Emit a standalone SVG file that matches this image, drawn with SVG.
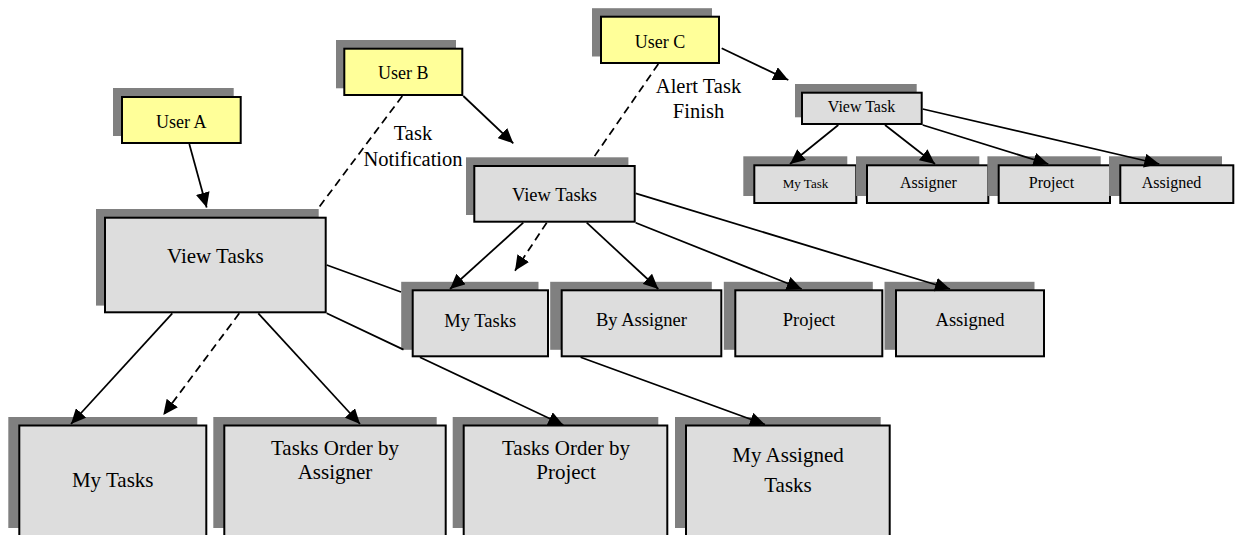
<svg xmlns="http://www.w3.org/2000/svg" width="1235" height="535" viewBox="0 0 1235 535">
  <style>
    .shadow { fill: #808080; stroke: none; }
    .box { fill: #dddddd; stroke: #000; stroke-width: 2; }
    .user { fill: #ffff99; stroke: #000; stroke-width: 2; }
    text { font-family: "Liberation Serif", "Times New Roman", serif; fill: #000; text-anchor: middle; }
    .t18 { font-size: 18px; }
    .t185 { font-size: 18.5px; }
    .t21 { font-size: 21px; }
    .t16 { font-size: 16px; }
    .t13 { font-size: 13px; }
    .lbl { font-size: 20.5px; }
    .link { fill: none; stroke: #000; stroke-width: 1.75; }
    .arrow { marker-end: url(#head); }
    .dash { stroke-dasharray: 8 5; }
  </style>
  <defs>
    <marker id="head" markerUnits="userSpaceOnUse" markerWidth="15" markerHeight="14" refX="15" refY="7" orient="auto">
      <path d="M0,0 L15,7 L0,14 z" fill="#000"/>
    </marker>
  </defs>

  <!-- users -->
  <g id="user-a">
    <rect class="shadow" x="113" y="88" width="120.7" height="48"/>
    <rect class="user" x="122" y="97" width="118.7" height="46"/>
    <text class="t18" x="181.3" y="127.7">User A</text>
  </g>
  <g id="user-b">
    <rect class="shadow" x="336" y="40" width="120" height="48.3"/>
    <rect class="user" x="344.3" y="48.7" width="118" height="46.3"/>
    <text class="t18" x="403.3" y="79.3">User B</text>
  </g>
  <g id="user-c">
    <rect class="shadow" x="592" y="8.2" width="120" height="48.3"/>
    <rect class="user" x="601" y="16.7" width="118" height="46.3"/>
    <text class="t18" x="660" y="47.7">User C</text>
  </g>

  <!-- user A: large views -->
  <g id="view-a">
    <rect class="shadow" x="96" y="209" width="222.7" height="96.6"/>
    <rect class="box" x="105" y="217.7" width="220.7" height="94.6"/>
    <text class="t21" x="215.3" y="263">View Tasks</text>
  </g>
  <g id="my-tasks-a">
    <rect class="shadow" x="8.3" y="417" width="189" height="111"/>
    <rect class="box" x="19.3" y="425.5" width="187" height="111"/>
    <text class="t21" x="112.7" y="487.3">My Tasks</text>
  </g>
  <g id="order-assigner-a">
    <rect class="shadow" x="213.3" y="417" width="223.4" height="111"/>
    <rect class="box" x="224.3" y="425.5" width="221.4" height="111"/>
    <text class="t21" x="335" y="455">Tasks Order by</text>
    <text class="t21" x="335" y="479.3">Assigner</text>
  </g>
  <g id="order-project-a">
    <rect class="shadow" x="452.7" y="417" width="205.6" height="111"/>
    <rect class="box" x="463.7" y="425.5" width="203.6" height="111"/>
    <text class="t21" x="566" y="455">Tasks Order by</text>
    <text class="t21" x="566" y="479.3">Project</text>
  </g>
  <g id="my-assigned-a">
    <rect class="shadow" x="675" y="417" width="205.7" height="111"/>
    <rect class="box" x="686" y="425.5" width="203.7" height="111"/>
    <text class="t21" x="788" y="461.7">My Assigned</text>
    <text class="t21" x="788" y="491.7">Tasks</text>
  </g>

  <!-- user B: medium views -->
  <g id="view-b">
    <rect class="shadow" x="466" y="157.3" width="162.4" height="57.7"/>
    <rect class="box" x="474.3" y="166" width="160.4" height="55.7"/>
    <text class="t185" x="554.5" y="200.7">View Tasks</text>
  </g>
  <g id="my-tasks-b">
    <rect class="shadow" x="401.2" y="281.8" width="137.3" height="68"/>
    <rect class="box" x="412.7" y="290.3" width="135.3" height="66"/>
    <text class="t185" x="480.3" y="326.5">My Tasks</text>
  </g>
  <g id="by-assigner-b">
    <rect class="shadow" x="550.2" y="281.8" width="161.6" height="68"/>
    <rect class="box" x="561.7" y="290.3" width="159.6" height="66"/>
    <text class="t185" x="641.5" y="326">By Assigner</text>
  </g>
  <g id="project-b">
    <rect class="shadow" x="723.8" y="281.8" width="149" height="68"/>
    <rect class="box" x="735.3" y="290.3" width="147" height="66"/>
    <text class="t185" x="809" y="325.5">Project</text>
  </g>
  <g id="assigned-b">
    <rect class="shadow" x="884.5" y="281.8" width="150" height="68"/>
    <rect class="box" x="896" y="290.3" width="148" height="66"/>
    <text class="t185" x="970" y="325.5">Assigned</text>
  </g>

  <!-- user C: small views -->
  <g id="view-c">
    <rect class="shadow" x="795" y="84" width="121.7" height="33.3"/>
    <rect class="box" x="802" y="92.7" width="119.7" height="31.3"/>
    <text class="t16" x="861.5" y="111.7">View Task</text>
  </g>
  <g id="my-task-c">
    <rect class="shadow" x="743.3" y="156.3" width="104" height="39.7"/>
    <rect class="box" x="754.3" y="165.3" width="102" height="37.7"/>
    <text class="t13" x="805.5" y="187.5">My Task</text>
  </g>
  <g id="assigner-c">
    <rect class="shadow" x="856" y="156.3" width="123.3" height="39.7"/>
    <rect class="box" x="867" y="165.3" width="121.3" height="37.7"/>
    <text class="t16" x="928.5" y="187.5">Assigner</text>
  </g>
  <g id="project-c">
    <rect class="shadow" x="987.4" y="156.3" width="113.3" height="39.7"/>
    <rect class="box" x="998.7" y="165.3" width="111.3" height="37.7"/>
    <text class="t16" x="1051.5" y="187.5">Project</text>
  </g>
  <g id="assigned-c">
    <rect class="shadow" x="1109" y="156.3" width="113" height="39.7"/>
    <rect class="box" x="1120.3" y="165.3" width="113" height="37.7"/>
    <text class="t16" x="1171.5" y="187.5">Assigned</text>
  </g>

  <!-- connector labels -->
  <g id="labels">
    <text class="lbl" x="413" y="140">Task</text>
    <text class="lbl" x="413" y="166">Notification</text>
    <text class="lbl" x="698.5" y="92.7">Alert Task</text>
    <text class="lbl" x="698.5" y="118.3">Finish</text>
  </g>

  <g id="connectors">
    <!-- users to their views -->
    <path class="link arrow" d="M189.3,144 L206.7,207.5"/>
    <path class="link arrow" d="M463.3,96 L513.3,143.3"/>
    <path class="link arrow" d="M721.7,48.3 L788.3,80"/>
    <!-- notifications -->
    <path class="link dash" d="M402.3,96 L317.7,209"/>
    <path class="link dash" d="M658.3,64 L594,157"/>
    <path class="link dash arrow" d="M239.3,313.3 L163.3,415"/>
    <path class="link dash arrow" d="M546.7,222.7 L515,270.7"/>
    <!-- large view children -->
    <path class="link arrow" d="M172.3,313.3 L71,424"/>
    <path class="link arrow" d="M258.3,313.3 L360,424"/>
    <!-- passes behind the medium row -->
    <path class="link arrow" d="M326.7,313.3 L403.5,349.6 M419.9,357.3 L563.3,425"/>
    <path class="link arrow" d="M326.7,265 L401,292 M580.6,357.3 L765,424.5"/>
    <!-- medium view children -->
    <path class="link arrow" d="M523.3,222.7 L450,289"/>
    <path class="link arrow" d="M586.7,222.7 L658.3,289"/>
    <path class="link arrow" d="M635.7,222.7 L801.7,289"/>
    <path class="link arrow" d="M635.7,193.3 L950,289"/>
    <!-- small view children -->
    <path class="link arrow" d="M838.3,125 L790,164"/>
    <path class="link arrow" d="M885,125 L935,164"/>
    <path class="link arrow" d="M922.7,125 L1048.3,164"/>
    <path class="link arrow" d="M922.7,109 L1159.3,164"/>
  </g>
</svg>
